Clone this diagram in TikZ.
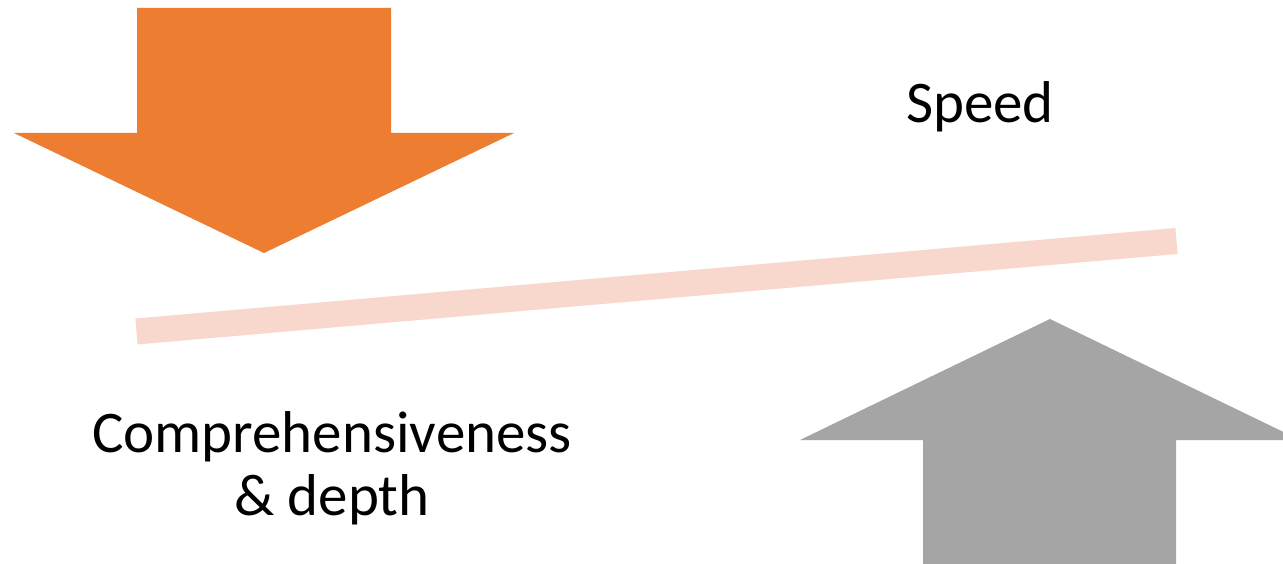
\documentclass[tikz,border=0pt]{standalone}
\usepackage{fontspec}
\setmainfont{Carlito}
\definecolor{orangeA}{HTML}{ED7D31}
\definecolor{grayA}{HTML}{A5A5A5}
\definecolor{beam}{HTML}{F8D7CD}
\begin{document}
\begin{tikzpicture}[x=1pt,y=-1pt,
  lbl/.style={inner sep=0pt,font=\fontsize{59}{63}\selectfont,align=center}]
\useasboundingbox (0,0) rectangle (1283,564);
\fill[white] (0,0) rectangle (1283,564);
% orange down arrow
\fill[orangeA] (137,8) -- (391,8) -- (391,133) -- (514,133) -- (264,253) -- (14,133) -- (137,133) -- cycle;
% gray up arrow
\fill[grayA] (923,564) -- (923,440) -- (800,440) -- (1050,319) -- (1300,440) -- (1176,440) -- (1176,564) -- cycle;
% beam
\coordinate (bl) at (136.5,331.5);
\coordinate (br) at (1176.5,241);
\draw[beam,line width=26pt] (bl) -- (br);
\node[lbl,anchor=base] (speed) at (980,123) {Speed};
\node[lbl,anchor=base] (comp) at (332,515) {Comprehensiveness\\\& depth};
\end{tikzpicture}
\end{document}
